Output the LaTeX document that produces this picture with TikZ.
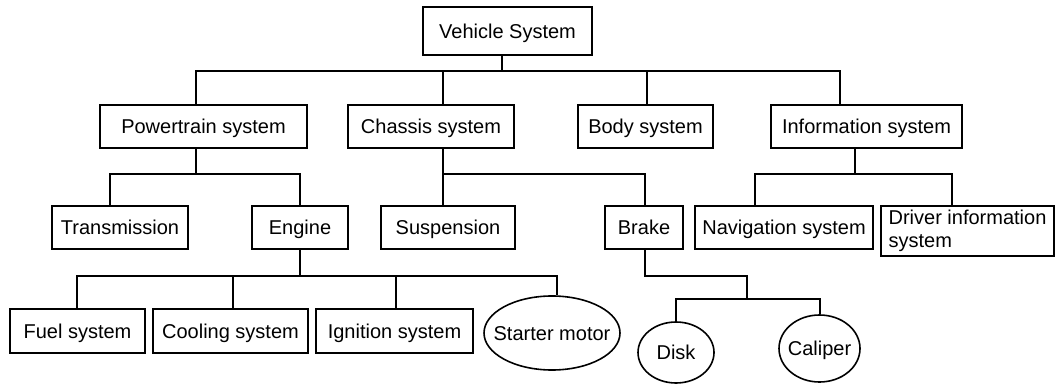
\documentclass[tikz,border=0pt]{standalone}
\usepackage{fontspec}
\setmainfont{Liberation Sans}
\usetikzlibrary{shapes.geometric}
\begin{document}
\begin{tikzpicture}[x=1pt,y=-1pt,
  every node/.style={font=\fontsize{20pt}{23pt}\selectfont},
  box/.style={draw, rectangle, line width=1.6pt, inner sep=0pt,
    text height=14.3pt, text depth=0pt, minimum height=43pt},
  twoline/.style={draw, rectangle, line width=1.6pt, inner sep=0pt,
    align=left, minimum height=50pt},
  oval/.style={draw, ellipse, line width=1.6pt, inner sep=0pt,
    text height=14.3pt, text depth=0pt},
  link/.style={line width=1.6pt}]
\useasboundingbox (0,0) rectangle (1056,387);

% top level
\node[box, minimum width=169pt, minimum height=48pt] (VS) at (507.5,31) {Vehicle System};

% subsystems
\node[box, minimum width=207pt] (PT) at (203.5,126.5) {Powertrain system};
\node[box, minimum width=166pt] (CH) at (431,126.5) {Chassis system};
\node[box, minimum width=135pt] (BO) at (645.5,126.5) {Body system};
\node[box, minimum width=191pt] (IN) at (866.5,126.5) {Information system};

% components
\node[box, minimum width=136pt] (TR) at (120,227.5) {Transmission};
\node[box, minimum width=96pt]  (EN) at (300,227.5) {Engine};
\node[box, minimum width=134pt] (SU) at (448,227.5) {Suspension};
\node[box, minimum width=78pt]  (BR) at (644,227.5) {Brake};
\node[box, minimum width=178pt] (NA) at (784,227.5) {Navigation system};
\node[twoline, minimum width=173pt] (DR) at (967.5,231) {Driver information\\system};

% engine parts
\node[box, minimum width=135pt, minimum height=44pt] (FU) at (77.5,331) {Fuel system};
\node[box, minimum width=155pt, minimum height=44pt] (CO) at (230.5,331) {Cooling system};
\node[box, minimum width=157pt, minimum height=44pt] (IG) at (394.5,331) {Ignition system};
\node[oval, minimum width=136pt, minimum height=74pt] (ST) at (552,333) {\makebox[0pt]{Starter motor}};

% brake parts
\node[oval, minimum width=76pt, minimum height=61pt] (DI) at (676,352.5) {\makebox[0pt]{Disk}};
\node[oval, minimum width=81pt, minimum height=67pt] (CA) at (819.5,348.5) {\makebox[0pt]{Caliper}};

% junction points
\coordinate (r0) at (502,71);
\coordinate (r1) at (196,71);
\coordinate (r2) at (443,71);
\coordinate (r3) at (647,71);
\coordinate (r4) at (840,71);
\coordinate (p0) at (196,174);
\coordinate (p1) at (110,174);
\coordinate (p2) at (300,174);
\coordinate (c0) at (443,174);
\coordinate (c1) at (645,174);
\coordinate (i0) at (855,174);
\coordinate (i1) at (755,174);
\coordinate (i2) at (952,174);
\coordinate (e0) at (300,276);
\coordinate (e1) at (77,276);
\coordinate (e2) at (233,276);
\coordinate (e3) at (396,276);
\coordinate (e4) at (557,276);
\coordinate (k0) at (645,276);
\coordinate (k1) at (747,276);
\coordinate (k2) at (747,299);
\coordinate (k3) at (676,299);
\coordinate (k4) at (820,299);

% connectors
\draw[link] (VS.south -| r0) -- (r0);
\draw[link] (r1 |- PT.north) -- (r1) -- (r4) -- (r4 |- IN.north);
\draw[link] (r2) -- (r2 |- CH.north);
\draw[link] (r3) -- (r3 |- BO.north);

\draw[link] (PT.south -| p0) -- (p0);
\draw[link] (p1 |- TR.north) -- (p1) -- (p2) -- (p2 |- EN.north);

\draw[link] (CH.south -| c0) -- (c0 |- SU.north);
\draw[link] (c0) -- (c1) -- (c1 |- BR.north);

\draw[link] (IN.south -| i0) -- (i0);
\draw[link] (i1 |- NA.north) -- (i1) -- (i2) -- (i2 |- DR.north);

\draw[link] (EN.south -| e0) -- (e0);
\draw[link] (e1 |- FU.north) -- (e1) -- (e4) -- (e4 |- ST.north);
\draw[link] (e2) -- (e2 |- CO.north);
\draw[link] (e3) -- (e3 |- IG.north);

\draw[link] (BR.south -| k0) -- (k0) -- (k1) -- (k2);
\draw[link] (k3 |- DI.north) -- (k3) -- (k4) -- (k4 |- CA.north);
\end{tikzpicture}
\end{document}
